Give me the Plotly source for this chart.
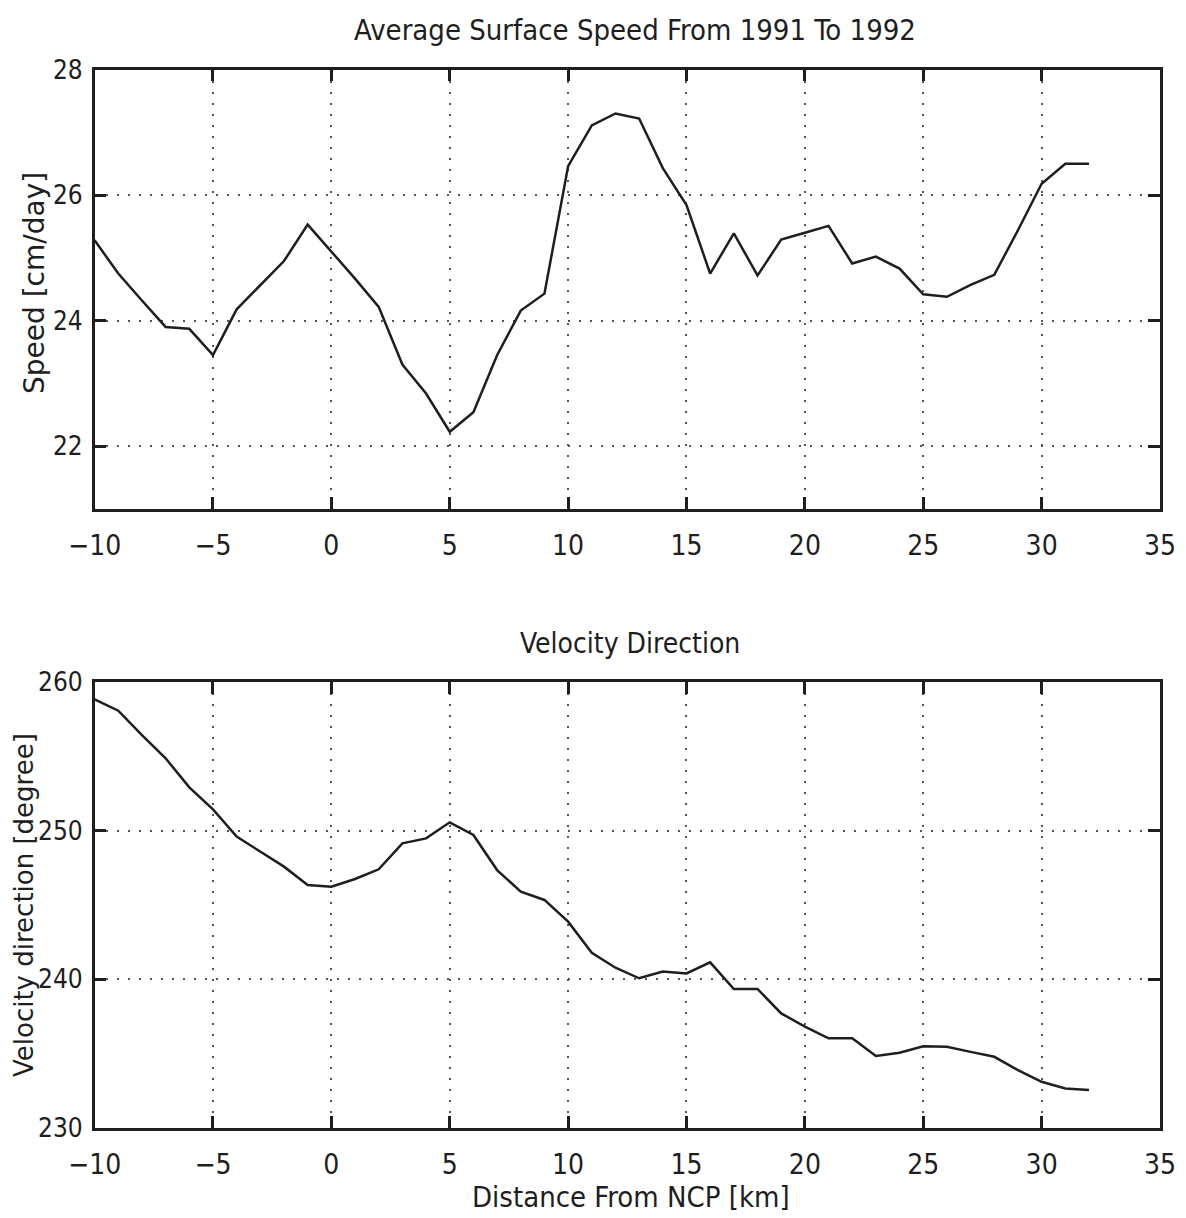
import plotly.graph_objects as go

distance_km = list(range(-10, 33))

speed_cm_day = [25.28, 24.75, 24.32, 23.90, 23.87, 23.45, 24.18, 24.56, 24.95, 25.53,
                25.10, 24.67, 24.22, 23.30, 22.84, 22.23, 22.54, 23.45, 24.16, 24.43,
                26.46, 27.11, 27.30, 27.22, 26.43, 25.84, 24.75, 25.39, 24.72, 25.29,
                25.40, 25.51, 24.91, 25.02, 24.83, 24.42, 24.38, 24.57, 24.73, 25.44,
                26.18, 26.50, 26.50]

direction_deg = [258.83, 258.07, 256.43, 254.87, 252.91, 251.43, 249.60, 248.59, 247.58, 246.35,
                 246.23, 246.75, 247.40, 249.15, 249.48, 250.56, 249.71, 247.35, 245.90, 245.34,
                 243.88, 241.79, 240.78, 240.07, 240.52, 240.40, 241.14, 239.35, 239.35, 237.71,
                 236.82, 236.03, 236.03, 234.85, 235.06, 235.50, 235.46, 235.12, 234.79, 233.89,
                 233.11, 232.66, 232.55]

x_ticks = [-10, -5, 0, 5, 10, 15, 20, 25, 30, 35]
x_ticklabels = ["\u221210", "\u22125", "0", "5", "10", "15", "20", "25", "30", "35"]
speed_ticks = [22, 24, 26, 28]
dir_ticks = [230, 240, 250, 260]

# page has an 8px body margin; figure sized to fit the viewport
OFF = 8
W, H = 1186 - OFF, 1218 - OFF


def px(x):
    return (x - OFF) / W


def py(y):
    return 1 - (y - OFF) / H


INK = "#1e1e1e"
NARROW = "DejaVu Sans Condensed, Liberation Sans Narrow, Liberation Sans, sans-serif"
REG = "DejaVu Sans, Liberation Sans, Arial, sans-serif"

fig = go.Figure()
fig.add_trace(go.Scatter(x=distance_km, y=speed_cm_day, mode="lines",
                         line=dict(color=INK, width=2.5), xaxis="x", yaxis="y",
                         showlegend=False))
fig.add_trace(go.Scatter(x=distance_km, y=direction_deg, mode="lines",
                         line=dict(color=INK, width=2.5), xaxis="x2", yaxis="y2",
                         showlegend=False))

xdom = [px(94.6), px(1160)]
ydom_top = [py(509), py(69.5)]
ydom_bot = [py(1128), py(682)]

common_axis = dict(
    showline=True, linecolor=INK, linewidth=2.5, mirror="ticks",
    ticks="inside", ticklen=12, tickwidth=2.5, tickcolor=INK,
    showgrid=True, gridcolor="#555555", gridwidth=2, griddash="2px,9px",
    zeroline=False, automargin=False,
)
xfont = dict(family=NARROW, size=28, color=INK)
yfont = dict(family=NARROW, size=26, color=INK)

fig.update_layout(
    width=W, height=H,
    margin=dict(l=0, r=0, t=0, b=0),
    paper_bgcolor="white", plot_bgcolor="white",
    xaxis=dict(domain=xdom, anchor="y", range=[-10, 35], tickmode="array",
               tickvals=x_ticks, ticktext=x_ticklabels, ticklabelstandoff=10,
               tickfont=xfont, **common_axis),
    yaxis=dict(domain=ydom_top, anchor="x", range=[21, 28], tickmode="array",
               tickvals=speed_ticks, ticktext=[str(v) for v in speed_ticks],
               ticklabelstandoff=4, tickfont=yfont, **common_axis),
    xaxis2=dict(domain=xdom, anchor="y2", range=[-10, 35], tickmode="array",
                tickvals=x_ticks, ticktext=x_ticklabels, ticklabelstandoff=10,
                tickfont=xfont, **common_axis),
    yaxis2=dict(domain=ydom_bot, anchor="x2", range=[230, 260], tickmode="array",
                tickvals=dir_ticks, ticktext=[str(v) for v in dir_ticks],
                ticklabelstandoff=4, tickfont=yfont, **common_axis),
    annotations=[
        dict(text="Average Surface Speed From 1991 To 1992", x=px(635), y=py(30),
             xref="paper", yref="paper", showarrow=False,
             xanchor="center", yanchor="middle",
             font=dict(family=NARROW, size=29, color=INK)),
        dict(text="Velocity Direction", x=px(630), y=py(643),
             xref="paper", yref="paper", showarrow=False,
             xanchor="center", yanchor="middle",
             font=dict(family=NARROW, size=28, color=INK)),
        dict(text="Speed [cm/day]", x=px(34), y=py(283), textangle=-90,
             xref="paper", yref="paper", showarrow=False,
             xanchor="center", yanchor="middle",
             font=dict(family=REG, size=28, color=INK)),
        dict(text="Velocity direction [degree]", x=px(24), y=py(905), textangle=-90,
             xref="paper", yref="paper", showarrow=False,
             xanchor="center", yanchor="middle",
             font=dict(family=REG, size=26, color=INK)),
        dict(text="Distance From NCP [km]", x=px(631), y=py(1197),
             xref="paper", yref="paper", showarrow=False,
             xanchor="center", yanchor="middle",
             font=dict(family=NARROW, size=29, color=INK)),
    ],
)

fig.write_html("out.html")
